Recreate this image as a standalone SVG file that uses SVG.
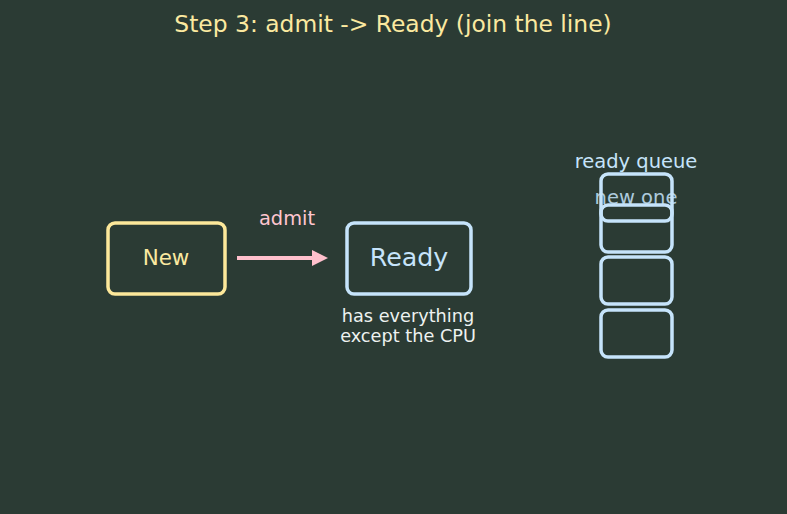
<svg xmlns="http://www.w3.org/2000/svg" width="787" height="514" viewBox="0 0 787 514">
<defs>
<style>
text{font-family:"DejaVu Sans",sans-serif;text-anchor:middle}
.q{fill:none;stroke:#c6e4fb;stroke-width:3.5}
</style>
</defs>
<rect width="787" height="514" fill="#2b3b34"/>
<text x="393" y="32" font-size="23.4" fill="#fbe9a0">Step 3: admit -&gt; Ready (join the line)</text>
<g id="connectors">
<line x1="237" y1="258" x2="318" y2="258" stroke="#ffc0cc" stroke-width="4"/>
<path d="M312,250 L328,258 L312,266 Z" fill="#ffc0cc"/>
<text x="287" y="225" font-size="19.4" fill="#ffc6d0">admit</text>
</g>
<g id="new">
<rect x="108" y="223" width="117" height="71" rx="7" fill="none" stroke="#fde89a" stroke-width="3.5"/>
<text x="166" y="265" font-size="21.4" fill="#fbe9a0">New</text>
</g>
<g id="ready">
<rect x="347" y="223" width="124" height="71" rx="7" fill="none" stroke="#c6e4fb" stroke-width="3.5"/>
<text x="409" y="266" font-size="25.3" fill="#c6e4fb">Ready</text>
<text x="408" y="322" font-size="17.7" fill="#eef2f0">has everything</text>
<text x="408" y="342" font-size="17.7" fill="#eef2f0">except the CPU</text>
</g>
<g id="queue">
<text x="636" y="168" font-size="19.5" fill="#c6e4fb">ready queue</text>
<rect class="q" x="601" y="205" width="71" height="47" rx="7"/>
<rect class="q" x="601" y="257" width="71" height="47" rx="7"/>
<rect class="q" x="601" y="310" width="71" height="47" rx="7"/>
</g>
<g id="newone">
<rect class="q" x="601" y="174" width="71" height="47" rx="7"/>
<text x="636" y="204" font-size="19.5" fill="#c6e4fb" opacity="0.85">new one</text>
</g>
</svg>
